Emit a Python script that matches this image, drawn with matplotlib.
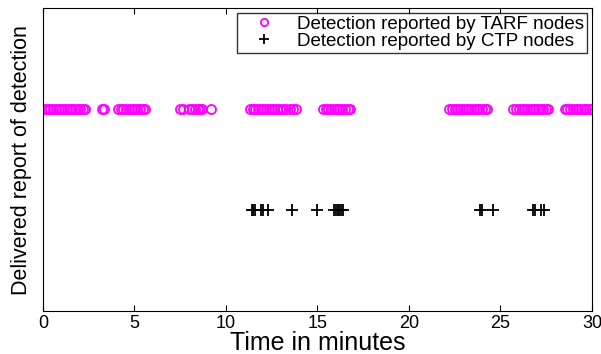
import matplotlib.pyplot as plt

plt.rcParams['font.family'] = ['Liberation Sans', 'DejaVu Sans']

# detection times (minutes)
tarf_times = [0.1, 0.25, 0.4, 0.55, 0.7, 0.85, 1.0, 1.15, 1.3, 1.45, 1.6, 1.75, 1.9, 2.05, 2.2, 2.3,
              3.2, 3.35,
              4.1, 4.25, 4.4, 4.55, 4.7, 4.85, 5.0, 5.15, 5.3, 5.45, 5.6,
              7.5, 7.65, 8.0, 8.15, 8.3, 8.45, 8.6, 8.7, 9.2,
              11.3, 11.45, 11.6, 11.75, 11.9, 12.05, 12.2, 12.35, 12.5, 12.65, 12.8,
              12.95, 13.1, 13.3, 13.5, 13.65, 13.8,
              15.3, 15.45, 15.6, 15.75, 15.9, 16.05, 16.2, 16.35, 16.5, 16.65, 16.8,
              22.2, 22.35, 22.5, 22.65, 22.8, 22.95, 23.1, 23.25, 23.4, 23.55, 23.7,
              23.85, 24.0, 24.15, 24.25,
              25.7, 25.85, 26.0, 26.15, 26.3, 26.45, 26.6, 26.75, 26.9, 27.05, 27.2,
              27.35, 27.5, 27.6,
              28.5, 28.65, 28.8, 28.95, 29.1, 29.25, 29.4, 29.55, 29.7, 29.85, 30.0]
ctp_times = [11.4, 11.5, 11.6, 11.9, 12.0, 12.3, 13.6, 15.0,
             15.9, 16.0, 16.1, 16.2, 16.3, 16.4,
             23.9, 24.0, 24.6,
             26.8, 26.9, 27.2, 27.4]
tarf_level = 2
ctp_level = 1

fig = plt.figure(figsize=(6.01, 3.54), dpi=100)
ax = fig.add_axes([0.0715, 0.121, 0.9135, 0.856])

ax.plot(tarf_times, [tarf_level] * len(tarf_times), 'o', color='magenta',
        markerfacecolor='none', markersize=6.5, markeredgewidth=1.3,
        linestyle='none', label='Detection reported by TARF nodes')
ax.plot(ctp_times, [ctp_level] * len(ctp_times), '+', color='black',
        markersize=9, markeredgewidth=1.3, linestyle='none',
        label='Detection reported by CTP nodes')

ax.set_xlim(0, 30)
ax.set_ylim(0, 3)
ax.set_xticks([0, 5, 10, 15, 20, 25, 30])
ax.set_yticks([])
ax.tick_params(axis='x', direction='in', top=True, labelsize=13, pad=3, length=4)
ax.set_xlabel('Time in minutes', fontsize=18, labelpad=-1)
ax.set_ylabel('Delivered report of detection', fontsize=15.5, labelpad=8)

ax.legend(loc='upper right', fontsize=13.5, frameon=True, fancybox=False,
          edgecolor='black', borderpad=0.15, handletextpad=0.5,
          labelspacing=0.0, borderaxespad=0.25, handlelength=2.6,
          markerscale=0.8)

fig.savefig('out.png', dpi=100)
